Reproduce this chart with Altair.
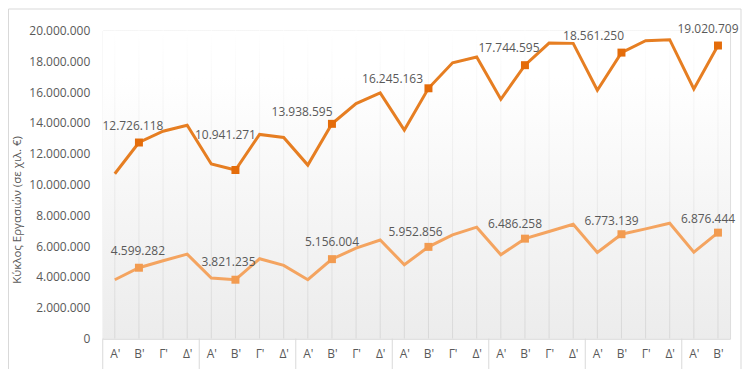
import json
import altair as alt
import pandas as pd

# ---------------- data ----------------
quarters = ["Α'", "Β'", "Γ'", "Δ'"]
x_labels = [quarters[i % 4] for i in range(26)]

turnover_total = [10700000, 12726118, 13460000, 13850000, 11330000, 10941271, 13250000, 13050000,
                  11260000, 13938595, 15250000, 15950000, 13530000, 16245163, 17900000, 18270000,
                  15530000, 17744595, 19180000, 19160000, 16120000, 18561250, 19330000, 19400000,
                  16200000, 19020709]
turnover_other = [3820000, 4599282, 5050000, 5480000, 3930000, 3821235, 5180000, 4750000,
                  3820000, 5156004, 5870000, 6400000, 4790000, 5952856, 6730000, 7230000,
                  5440000, 6486258, 6950000, 7420000, 5590000, 6773139, 7120000, 7490000,
                  5610000, 6876444]
series_names = ["Σύνολο", "Άλλο"]
y_ticks = [0, 2000000, 4000000, 6000000, 8000000, 10000000, 12000000, 14000000, 16000000, 18000000, 20000000]
y_title = "Κύκλος Εργασιών (σε χιλ. €)"

def fmt(v):
    return f"{v:,}".replace(",", ".")

rows = []
for s, vals in zip(series_names, [turnover_total, turnover_other]):
    for i, v in enumerate(vals):
        rows.append({"idx": i, "q": x_labels[i], "value": v, "series": s, "label": fmt(v)})
df = pd.DataFrame(rows)
seps = pd.DataFrame({"b": [i - 0.5 for i in range(0, 26, 4)]})
grid_df = pd.DataFrame({"idx": list(range(len(x_labels)))})

# ---------------- style ----------------
W, H = 629, 309
GRAY = "#595959"
FONT = "Open Sans"
line_colors = {"Σύνολο": "#E67E22", "Άλλο": "#F4A460"}
mark_colors = {"Σύνολο": "#E46C0A", "Άλλο": "#F29B50"}
label_offsets = {
    "Σύνολο": [(-6, -17), (-10, -35), (-30, -12), (-36, -9), (-16, -17), (-28, -17), (-10, -17)],
    "Άλλο": [(-1, -17), (-7, -18), (0, -17), (-13, -15), (-10, -15), (-10, -13), (-10, -14)],
}

xscale = alt.Scale(domain=[-0.5, 25.5], nice=False, zero=False, padding=0)
yscale = alt.Scale(domain=[0, 20000000], nice=False)

xaxis = alt.Axis(values=list(range(26)),
                 labelExpr=json.dumps(x_labels) + "[datum.value]",
                 grid=False,
                 domain=True, domainColor="#d9d9d9", ticks=False,
                 labelPadding=10, labelColor=GRAY, labelFontSize=12, labelFont=FONT,
                 labelOverlap=False, labelFlush=False, title=None)
yaxis = alt.Axis(values=y_ticks,
                 labelExpr="replace(format(datum.value, ','), regexp(',', 'g'), '.')",
                 grid=False, domain=False, ticks=False, labelOverlap=False,
                 labelPadding=13, labelColor=GRAY, labelFontSize=12, labelFont=FONT,
                 title=y_title, titleColor=GRAY, titleFontSize=11.5, titleFont=FONT,
                 titleFontWeight="normal", titleX=-80, titleY=H / 2 + 25)

X = alt.X("idx:Q", scale=xscale, axis=xaxis)
Y = alt.Y("value:Q", scale=yscale, axis=yaxis)

bg = alt.Chart(pd.DataFrame({"a": [0]})).mark_rect(
    color=alt.LinearGradient(gradient="linear", x1=0, y1=0, x2=0, y2=1,
                             stops=[alt.GradientStop(color="#ffffff", offset=0),
                                    alt.GradientStop(color="#ffffff", offset=0.15),
                                    alt.GradientStop(color="#ececec", offset=1)])
).encode(x=alt.value(0), x2=alt.value(W), y=alt.value(0), y2=alt.value(H))

border = alt.Chart(pd.DataFrame({"a": [0]})).mark_rect(
    fill=None, stroke="#d9d9d9", strokeWidth=1
).encode(x=alt.value(-94.5), x2=alt.value(W + 11), y=alt.value(-21.5), y2=alt.value(H + 80))

grid_rules = alt.Chart(grid_df).mark_bar(
    width=1,
    color=alt.LinearGradient(gradient="linear", x1=0, y1=0, x2=0, y2=1,
                             stops=[alt.GradientStop(color="#ffffff", offset=0),
                                    alt.GradientStop(color="#f6f6f6", offset=0.2),
                                    alt.GradientStop(color="#d8d8d8", offset=1)])
).encode(x=X, y=alt.value(0), y2=alt.value(H))

sep_rules = alt.Chart(seps).mark_rule(color="#d9d9d9", strokeWidth=1).encode(
    x=alt.X("b:Q", scale=xscale, axis=xaxis), y=alt.value(H), y2=alt.value(H + 60))

layers = [bg, border, grid_rules, sep_rules]
for s in series_names:
    base = alt.Chart(df[df.series == s])
    layers.append(base.mark_line(color=line_colors[s], strokeWidth=3).encode(x=X, y=Y))
for s in series_names:
    base = alt.Chart(df[(df.series == s) & (df.q == quarters[1])])
    layers.append(base.mark_point(shape="square", filled=True, size=64, opacity=1,
                                  color=mark_colors[s]).encode(x=X, y=Y))
for s in series_names:
    pts = df[(df.series == s) & (df.q == quarters[1])].reset_index(drop=True)
    for k in range(len(pts)):
        dx, dy = label_offsets[s][k]
        layers.append(alt.Chart(pts.iloc[[k]]).mark_text(
            dx=dx, dy=dy, fontSize=12, font=FONT, color=GRAY, align="center", baseline="middle"
        ).encode(x=X, y=Y, text="label:N"))

chart = alt.layer(*layers).properties(
    width=W, height=H,
    autosize=alt.AutoSizeParams(type="none"),
    padding={"left": 95, "top": 22, "right": 12, "bottom": 30},
).configure_view(stroke=None).configure(background="white")

chart.save("out.html", embed_options={"renderer": "svg", "actions": False})
